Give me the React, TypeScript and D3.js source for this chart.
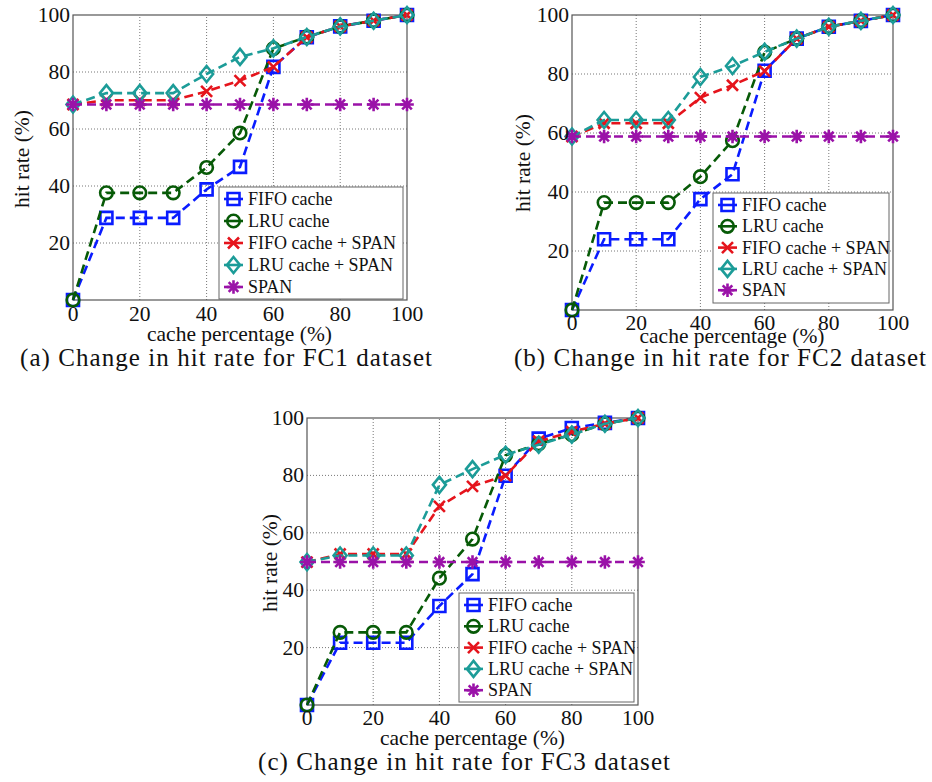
import React from "react";
import * as d3 from "d3";

const cachePct = [0, 10, 20, 30, 40, 50, 60, 70, 80, 90, 100];
const xTicks = [0, 20, 40, 60, 80, 100];
const yTicks = [20, 40, 60, 80, 100];
const seriesNames = ["FIFO cache", "LRU cache", "FIFO cache + SPAN", "LRU cache + SPAN", "SPAN"];

const fc1Fifo = [0, 28.8, 28.8, 28.8, 38.8, 46.7, 81.8, 92.2, 96, 98, 100];
const fc1Lru = [0, 37.6, 37.6, 37.6, 46.5, 58.6, 88.2, 92.3, 96, 98, 100];
const fc1FifoSpan = [68.6, 70.1, 70.1, 70.1, 73.2, 77, 81.8, 92.2, 96, 98, 100];
const fc1LruSpan = [68.6, 72.6, 72.6, 72.6, 79.3, 85.3, 88.3, 92.3, 96, 98, 100];
const fc1Span = [68.6, 68.6, 68.6, 68.6, 68.6, 68.6, 68.6, 68.6, 68.6, 68.6, 68.6];

const fc2Fifo = [0, 24, 24, 24, 37.6, 46, 81.1, 92, 96, 98, 100];
const fc2Lru = [0, 36.4, 36.4, 36.4, 45.2, 57.4, 87.4, 92, 96, 98, 100];
const fc2FifoSpan = [58.8, 63.3, 63.3, 63.3, 72, 76.2, 81, 92, 96, 98, 100];
const fc2LruSpan = [58.8, 64.4, 64.4, 64.4, 79, 82.7, 87.5, 92, 96, 98, 100];
const fc2Span = [58.8, 58.8, 58.8, 58.8, 58.8, 58.8, 58.8, 58.8, 58.8, 58.8, 58.8];

const fc3Fifo = [0, 21.7, 21.7, 21.7, 34.5, 45.6, 79.9, 92.8, 96.5, 98.3, 100];
const fc3Lru = [0, 25.3, 25.3, 25.3, 44.2, 57.8, 87, 91, 94.2, 98, 100];
const fc3FifoSpan = [49.8, 52.6, 52.6, 52.6, 69.2, 76.2, 79.9, 91.9, 95.2, 98, 100];
const fc3LruSpan = [49.8, 52.1, 52.1, 52.1, 76.7, 82.2, 87.2, 90.7, 94.2, 98, 100];
const fc3Span = [49.8, 49.8, 49.8, 49.8, 49.8, 49.8, 49.8, 49.8, 49.8, 49.8, 49.8];

const captions = [
  "(a)  Change in hit rate for FC1 dataset",
  "(b)  Change in hit rate for FC2 dataset",
  "(c)  Change in hit rate for FC3 dataset",
];

const colors = ["#0a1cff", "#075a07", "#e5141c", "#1c9c98", "#9a12a8"];
const markers = ["square", "circle", "x", "diamond", "asterisk"];

const FONT = "Liberation Serif, Times New Roman, serif";

function markerPath(kind: string): string {
  const p = d3.path();
  if (kind === "square") {
    p.rect(-6, -6, 12, 12);
  } else if (kind === "circle") {
    p.arc(0, 0, 6.3, 0, Math.PI * 2);
    p.closePath();
  } else if (kind === "diamond") {
    p.moveTo(0, -8);
    p.lineTo(6.5, 0);
    p.lineTo(0, 8);
    p.lineTo(-6.5, 0);
    p.closePath();
  } else if (kind === "x") {
    p.moveTo(-5.5, -5.5);
    p.lineTo(5.5, 5.5);
    p.moveTo(-5.5, 5.5);
    p.lineTo(5.5, -5.5);
  } else {
    const r = 6.8;
    for (let i = 0; i < 4; i++) {
      const a = (i * Math.PI) / 4;
      p.moveTo(-r * Math.cos(a), -r * Math.sin(a));
      p.lineTo(r * Math.cos(a), r * Math.sin(a));
    }
  }
  return p.toString();
}

type PanelProps = {
  series: number[][];
  xr: [number, number];
  yr: [number, number];
  legend: { x: number; y: number; w: number; h: number; step: number };
  xTickBase: number;
  xLabel: { x: number; y: number };
  yLabel: { x: number; y: number };
  caption: { x: number; y: number; text: string };
};

function Panel({ series, xr, yr, legend, xTickBase, xLabel, yLabel, caption }: PanelProps) {
  const x = d3.scaleLinear().domain([0, 100]).range(xr);
  const y = d3.scaleLinear().domain([0, 100]).range(yr);
  const line = d3
    .line<number>()
    .x((_, i) => x(cachePct[i]))
    .y((d) => y(d));
  return (
    <g>
      {xTicks
        .filter((t) => t > 0 && t < 100)
        .map((t) => (
          <line key={"gx" + t} x1={x(t)} x2={x(t)} y1={yr[0]} y2={yr[1]} stroke="#777" strokeWidth={1} strokeDasharray="1,2" />
        ))}
      {yTicks
        .filter((t) => t < 100)
        .map((t) => (
          <line key={"gy" + t} y1={y(t)} y2={y(t)} x1={xr[0]} x2={xr[1]} stroke="#777" strokeWidth={1} strokeDasharray="1,2" />
        ))}
      <rect x={xr[0]} y={yr[1]} width={xr[1] - xr[0]} height={yr[0] - yr[1]} fill="none" stroke="#555" strokeWidth={1.2} />
      {series.map((s, si) => (
        <g key={"s" + si}>
          <path d={line(s) || ""} fill="none" stroke={colors[si]} strokeWidth={2.6} strokeDasharray="9,5" />
          {s.map((v, i) => (
            <path
              key={i}
              d={markerPath(markers[si])}
              transform={`translate(${x(cachePct[i])},${y(v)})`}
              fill="none"
              stroke={colors[si]}
              strokeWidth={2.6}
            />
          ))}
        </g>
      ))}
      {xTicks.map((t) => (
        <text key={"lx" + t} x={x(t)} y={xTickBase} textAnchor="middle" fontFamily={FONT} fontSize={21.5} fill="#111">
          {t}
        </text>
      ))}
      {yTicks.map((t) => (
        <text key={"ly" + t} x={xr[0] - 3} y={y(t)} dy="0.33em" textAnchor="end" fontFamily={FONT} fontSize={21.5} fill="#111">
          {t}
        </text>
      ))}
      <text x={xLabel.x} y={xLabel.y} textAnchor="middle" fontFamily={FONT} fontSize={21.5} fill="#111">
        cache percentage (%)
      </text>
      <text
        transform={`translate(${yLabel.x},${yLabel.y}) rotate(-90)`}
        textAnchor="middle"
        fontFamily={FONT}
        fontSize={21.5}
        fill="#111"
      >
        hit rate (%)
      </text>
      <rect x={legend.x} y={legend.y} width={legend.w} height={legend.h} fill="#fff" stroke="#666" strokeWidth={1} />
      {seriesNames.map((n, i) => {
        const ly = legend.y + 12 + i * legend.step;
        return (
          <g key={"lg" + i}>
            <line x1={legend.x + 5} x2={legend.x + 24} y1={ly} y2={ly} stroke={colors[i]} strokeWidth={2.6} />
            <path d={markerPath(markers[i])} transform={`translate(${legend.x + 14.5},${ly})`} fill="none" stroke={colors[i]} strokeWidth={2.6} />
            <text x={legend.x + 29} y={ly} dy="0.33em" fontFamily={FONT} fontSize={18} fill="#111">
              {n}
            </text>
          </g>
        );
      })}
      <text
        x={caption.x}
        y={caption.y}
        textAnchor="middle"
        fontFamily={FONT}
        fontSize={25}
        fill="#111"
        textLength={412}
        lengthAdjust="spacing"
      >
        {caption.text}
      </text>
    </g>
  );
}

export default function App() {
  return (
    <svg width={932} height={782} style={{ position: "absolute", left: 0, top: 0, background: "#fff" }}>
      <rect width={932} height={782} fill="#fff" />
      <Panel
        series={[fc1Fifo, fc1Lru, fc1FifoSpan, fc1LruSpan, fc1Span]}
        xr={[73, 407]}
        yr={[300, 15]}
        legend={{ x: 219, y: 187, w: 184, h: 112, step: 22 }}
        xTickBase={321}
        xLabel={{ x: 239.5, y: 341 }}
        yLabel={{ x: 29, y: 159 }}
        caption={{ x: 226, y: 366, text: captions[0] }}
      />
      <Panel
        series={[fc2Fifo, fc2Lru, fc2FifoSpan, fc2LruSpan, fc2Span]}
        xr={[572, 893]}
        yr={[310, 15]}
        legend={{ x: 713, y: 193, w: 176, h: 110, step: 21.3 }}
        xTickBase={330}
        xLabel={{ x: 732, y: 343 }}
        yLabel={{ x: 530, y: 163 }}
        caption={{ x: 720, y: 366, text: captions[1] }}
      />
      <Panel
        series={[fc3Fifo, fc3Lru, fc3FifoSpan, fc3LruSpan, fc3Span]}
        xr={[307, 638]}
        yr={[705, 418]}
        legend={{ x: 459, y: 593, w: 175, h: 109, step: 21.3 }}
        xTickBase={725}
        xLabel={{ x: 472.5, y: 745 }}
        yLabel={{ x: 277, y: 563 }}
        caption={{ x: 464, y: 770, text: captions[2] }}
      />
    </svg>
  );
}
